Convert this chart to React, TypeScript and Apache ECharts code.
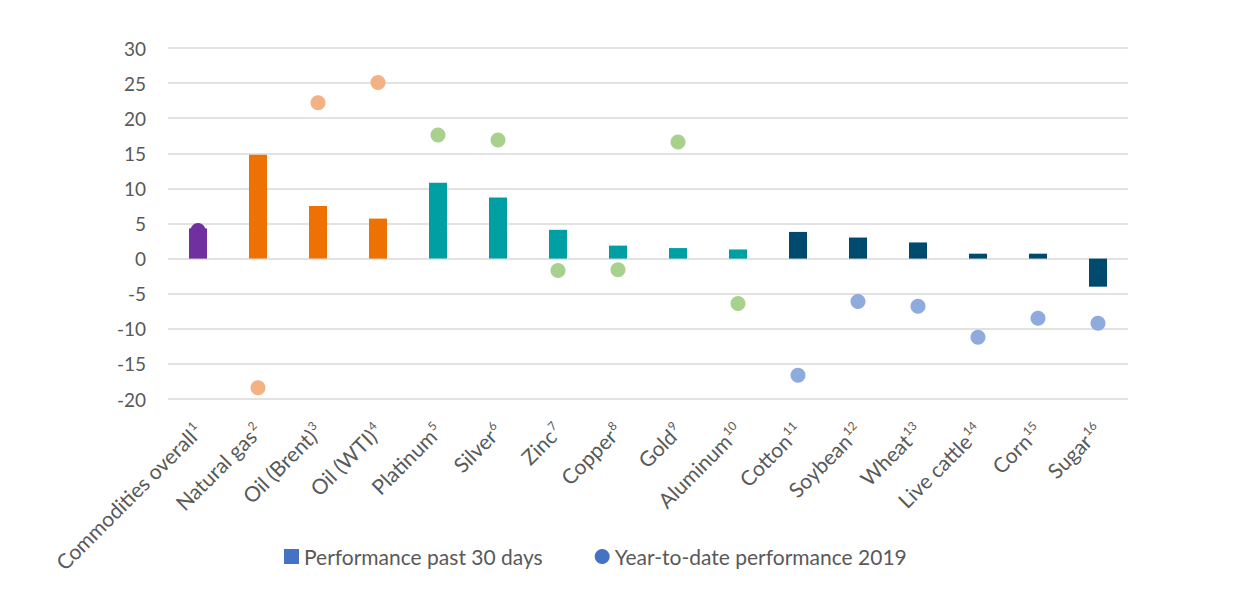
import React, { useEffect, useRef } from "react";
import * as echarts from "echarts";

const categories = [
  "Commodities overall", "Natural gas", "Oil (Brent)", "Oil (WTI)", "Platinum", "Silver",
  "Zinc", "Copper", "Gold", "Aluminum", "Cotton", "Soybean", "Wheat", "Live cattle", "Corn", "Sugar",
];
const footnotes = ["1", "2", "3", "4", "5", "6", "7", "8", "9", "10", "11", "12", "13", "14", "15", "16"];
const past30Days = [4.3, 14.8, 7.5, 5.7, 10.8, 8.7, 4.1, 1.85, 1.5, 1.3, 3.8, 3.0, 2.3, 0.7, 0.7, -4.0];
const ytd2019 = [4.0, -18.4, 22.2, 25.1, 17.6, 16.9, -1.7, -1.6, 16.6, -6.4, -16.6, -6.1, -6.8, -11.2, -8.5, -9.2];
const groups = [0, 1, 1, 1, 2, 2, 2, 2, 2, 2, 3, 3, 3, 3, 3, 3];
const barColors = ["#7030A0", "#EE7203", "#009FA3", "#004A6E"];
const dotColors = ["#7030A0", "#F4B183", "#A9D18E", "#8FAADC"];
const yTicks = { min: -20, max: 30, interval: 5 };

const FONT = "Lato, 'Open Sans', sans-serif";

export default function App() {
  const ref = useRef<HTMLDivElement>(null);
  useEffect(() => {
    if (!ref.current) return;
    const chart = echarts.init(ref.current, undefined, { renderer: "svg" });
    chart.setOption({
      animation: false,
      textStyle: { fontFamily: FONT },
      grid: { left: 160, right: 101, top: 40, bottom: 186 },
      legend: {
        left: 271,
        top: 533,
        itemGap: 52,
        itemWidth: 15,
        itemHeight: 15,
        textStyle: { fontSize: 21, color: "#595959", fontFamily: FONT },
        data: [
          { name: "Performance past 30 days", icon: "rect" },
          { name: "Year-to-date performance 2019", icon: "circle" },
        ],
      },
      xAxis: {
        type: "category",
        data: categories,
        axisLine: { show: false },
        axisTick: { show: false },
        axisLabel: {
          rotate: 45,
          interval: 0,
          margin: 28,
          formatter: (v: string) => {
            const i = categories.indexOf(v);
            return `{n|${v}}{s|${footnotes[i]}}`;
          },
          rich: {
            n: { fontSize: 21, color: "#595959", fontFamily: FONT },
            s: { fontSize: 12, color: "#595959", fontFamily: FONT, verticalAlign: "top", padding: [0, 0, 10, 1] },
          },
        },
      },
      yAxis: {
        type: "value",
        min: yTicks.min,
        max: yTicks.max,
        interval: yTicks.interval,
        axisLine: { show: false },
        axisTick: { show: false },
        axisLabel: { fontSize: 19, color: "#595959", margin: 22, fontFamily: FONT },
        splitLine: { lineStyle: { color: "#D9D9D9", width: 1.5 } },
      },
      series: [
        {
          name: "Performance past 30 days",
          type: "bar",
          barWidth: 18,
          itemStyle: { color: "#4472C4" },
          data: past30Days.map((v, i) => ({ value: v, itemStyle: { color: barColors[groups[i]] } })),
        },
        {
          name: "Year-to-date performance 2019",
          type: "scatter",
          symbolSize: 15,
          itemStyle: { color: "#4472C4", opacity: 1 },
          data: ytd2019.map((v, i) => ({ value: v, itemStyle: { color: dotColors[groups[i]] } })),
        },
      ],
    });
    return () => chart.dispose();
  }, []);
  return <div ref={ref} style={{ width: 1221, height: 577 }} />;
}
